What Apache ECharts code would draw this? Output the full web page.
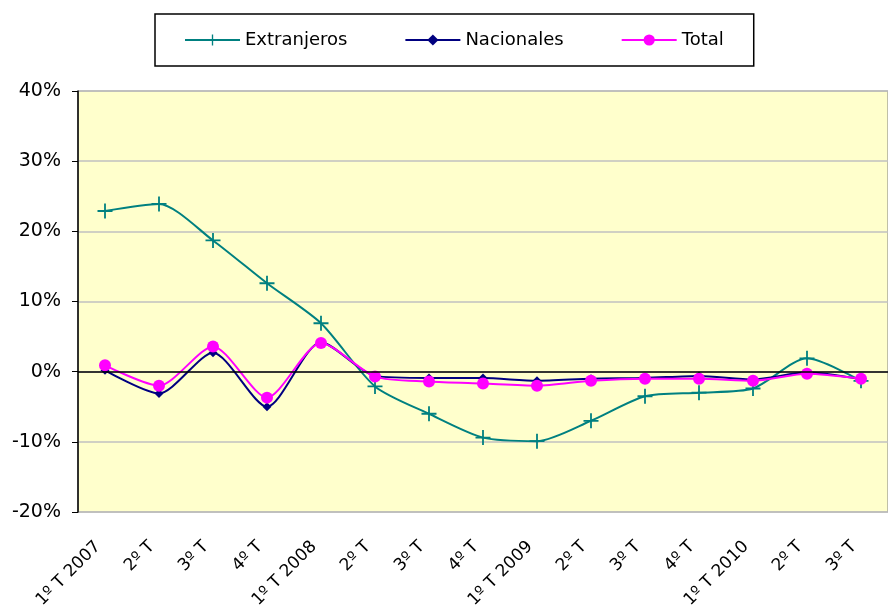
<!DOCTYPE html>
<html><head><meta charset="utf-8">
<script src="https://cdn.jsdelivr.net/npm/echarts@6/dist/echarts.min.js"></script>
<style>html,body{margin:0;padding:0;background:#fff}#c{width:888px;height:613px}</style>
</head><body><div id="c"></div>
<script>
var categories = ['1º T 2007','2º T','3º T','4º T','1º T 2008','2º T','3º T','4º T','1º T 2009','2º T','3º T','4º T','1º T 2010','2º T','3º T'];
var extranjeros = [22.9, 23.9, 18.7, 12.6, 6.9, -2.1, -6.0, -9.4, -9.9, -7.0, -3.5, -3.0, -2.4, 1.9, -1.3];
var nacionales = [0.2, -3.1, 2.7, -5.0, 4.2, -0.6, -0.9, -0.9, -1.3, -1.0, -0.9, -0.6, -1.1, -0.1, -1.1];
var total = [0.9, -2.0, 3.6, -3.7, 4.1, -0.7, -1.4, -1.7, -2.0, -1.3, -1.0, -1.0, -1.3, -0.3, -1.0];
var yTicks = {min: -20, max: 40, interval: 10};

var font = 'DejaVu Sans';
var plus = 'path://M4.4,0h1.2v4.4h4.4v1.2h-4.4v4.4h-1.2v-4.4h-4.4v-1.2h4.4z';
var chart = echarts.init(document.getElementById('c'));
chart.setOption({
  animation: false,
  legend: {
    left: 155, top: 14,
    padding: [17, 30, 17, 29],
    borderColor: '#000', borderWidth: 1.5,
    itemWidth: 55, itemHeight: 14, itemGap: 57,
    textStyle: {fontFamily: font, fontSize: 18, color: '#000'},
    data: ['Extranjeros','Nacionales','Total']
  },
  grid: {left: 78, top: 91, right: 0, bottom: 101, show: true, backgroundColor: '#FFFFCC', borderColor: '#808080', borderWidth: 1},
  xAxis: {
    type: 'category', data: categories, boundaryGap: true,
    axisLine: {show: false}, axisTick: {show: false},
    axisLabel: {rotate: 45, fontFamily: font, fontSize: 17, color: '#000', margin: 25, padding: [0, 10, 0, 0], interval: 0}
  },
  yAxis: {
    type: 'value', min: yTicks.min, max: yTicks.max, interval: yTicks.interval,
    axisLine: {show: true, lineStyle: {color: '#000', width: 1.5}},
    axisTick: {show: true, length: 6, lineStyle: {color: '#000'}},
    axisLabel: {formatter: '{value}%', fontFamily: font, fontSize: 19, color: '#000', margin: 17},
    splitLine: {lineStyle: {color: '#C0C0C0', width: 1.5}}
  },
  series: [
    {name: 'Extranjeros', type: 'line', data: extranjeros, smooth: 0.25,
     symbol: plus, symbolSize: 15, color: '#008080', lineStyle: {width: 2, color: '#008080'},
     markLine: {silent: true, symbol: 'none', label: {show: false}, lineStyle: {color: '#000', type: 'solid', width: 1.5}, data: [{yAxis: 0}]}, z: 2},
    {name: 'Nacionales', type: 'line', data: nacionales, smooth: 0.25,
     symbol: 'diamond', symbolSize: 9, color: '#000080', lineStyle: {width: 2, color: '#000080'}, z: 3},
    {name: 'Total', type: 'line', data: total, smooth: 0.25,
     symbol: 'circle', symbolSize: 12, color: '#FF00FF', lineStyle: {width: 2, color: '#FF00FF'}, z: 4}
  ]
});
</script></body></html>
